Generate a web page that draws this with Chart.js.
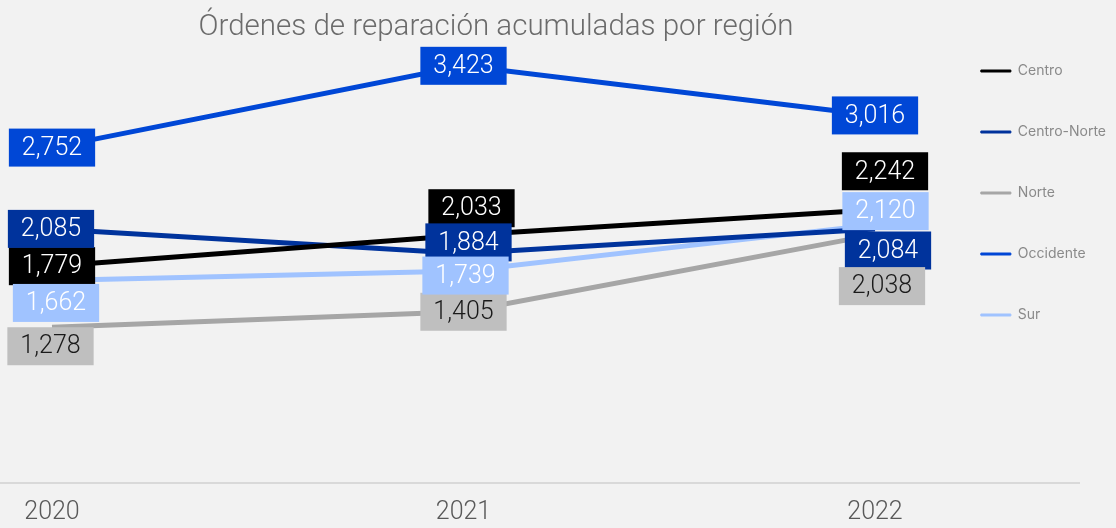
<!DOCTYPE html>
<html>
<head>
<meta charset="utf-8">
<script src="https://cdn.jsdelivr.net/npm/chart.js@4"></script>
<style>
  html, body { margin: 0; padding: 0; background: #f2f2f2; }
  #wrap { width: 1116px; height: 528px; }
</style>
</head>
<body>
<div id="wrap"><canvas id="chart"></canvas></div>
<script>
// data
const years = ["2020", "2021", "2022"];
const regions = ["Centro", "Centro-Norte", "Norte", "Occidente", "Sur"];
const centro = [1779, 2033, 2242];
const centroNorte = [2085, 1884, 2084];
const norte = [1278, 1405, 2038];
const occidente = [2752, 3423, 3016];
const sur = [1662, 1739, 2120];

const lineColors = ["#000000", "#00339c", "#a6a6a6", "#0047d6", "#a0c3ff"];
const boxColors = ["#000000", "#00339c", "#bfbfbf", "#0047d6", "#a0c3ff"];
const textColors = ["#ffffff", "#ffffff", "#1a1a1a", "#ffffff", "#ffffff"];

// how far each value label is nudged from its point (dx, dy)
const labelShift = [
  [[0, 0], [8, -27], [10, -38.5]],
  [[-1, 0], [5, -11], [13, 21.5]],
  [[-1.5, 19], [0, 0], [7, 51.5]],
  [[0, 0], [0, 0], [0, 0]],
  [[4, 22.5], [2, 4.5], [10.5, -13.5]],
];

const seriesValues = [centro, centroNorte, norte, occidente, sur];

const baseLine = {
  id: "baseLine",
  afterLayout(chart) {
    // title sits centred over the plot + gap, not the whole canvas
    if (chart.titleBlock) {
      chart.titleBlock.left = 0;
      chart.titleBlock.right = 992;
      chart.titleBlock.width = 992;
    }
  },
  beforeDatasetsDraw(chart) {
    const ctx = chart.ctx;
    const y = chart.chartArea.bottom;
    ctx.save();
    ctx.strokeStyle = "#d9d9d9";
    ctx.lineWidth = 2;
    ctx.beginPath();
    ctx.moveTo(0, y);
    ctx.lineTo(1080, y);
    ctx.stroke();
    ctx.restore();
  },
};

const valueLabels = {
  id: "valueLabels",
  afterDatasetsDraw(chart) {
    const ctx = chart.ctx;
    ctx.save();
    ctx.font = "300 25px Roboto";
    ctx.textAlign = "center";
    ctx.textBaseline = "middle";
    chart.data.datasets.forEach((ds, i) => {
      const meta = chart.getDatasetMeta(i);
      meta.data.forEach((pt, j) => {
        const txt = ds.data[j].toLocaleString("en-US");
        const x = pt.x + labelShift[i][j][0];
        const y = pt.y + labelShift[i][j][1];
        const w = ctx.measureText(txt).width + 26;
        const h = 38;
        ctx.fillStyle = boxColors[i];
        ctx.fillRect(x - w / 2, y - h / 2, w, h);
        ctx.fillStyle = textColors[i];
        ctx.fillText(txt, x, y + 1);
      });
    });
    ctx.restore();
  },
};

new Chart(document.getElementById("chart"), {
  type: "line",
  data: {
    labels: years,
    datasets: regions.map((name, i) => ({
      label: name,
      data: seriesValues[i],
      borderColor: lineColors[i],
      backgroundColor: lineColors[i],
      borderWidth: 5,
      pointRadius: 0,
      tension: 0,
    })),
  },
  options: {
    responsive: true,
    maintainAspectRatio: false,
    animation: false,
    layout: { padding: 0 },
    plugins: {
      title: {
        display: true,
        text: "Órdenes de reparación acumuladas por región",
        color: "#6b6b6b",
        font: { family: "Roboto", size: 29.5, weight: "300", lineHeight: 1.2 },
        padding: { top: 9.7, bottom: -29.5 },
      },
      legend: {
        position: "right",
        align: "start",
        title: {
          display: true,
          text: " ",
          font: { size: 12, lineHeight: 1 },
          padding: { top: 5, bottom: 0 },
        },
        labels: {
          color: "#8a8a8a",
          font: { family: "Inter", size: 14 },
          boxWidth: 30,
          boxHeight: 2,
          padding: 47,
          generateLabels(chart) {
            return Chart.defaults.plugins.legend.labels.generateLabels(chart).map((it, i) => ({
              ...it,
              fillStyle: lineColors[i],
              strokeStyle: lineColors[i],
              lineWidth: 1,
            }));
          },
        },
      },
      tooltip: { enabled: false },
    },
    scales: {
      x: {
        grid: { display: false, drawTicks: false },
        border: { display: false },
        ticks: {
          color: "#595959",
          font: { family: "Roboto", size: 25, weight: "300", lineHeight: 1.2 },
          padding: 15,
        },
        afterFit(s) { s.height = 45; },
      },
      y: {
        min: 0,
        max: 3835,
        grid: { display: false, drawTicks: false },
        border: { display: false },
        ticks: { display: false },
        afterFit(s) { s.width = 52; },
      },
      yR: {
        position: "right",
        grid: { display: false, drawTicks: false },
        border: { display: false },
        ticks: { display: false },
        afterFit(s) {
          const lw = s.chart.legend ? s.chart.legend.width : 182;
          s.width = Math.max(0, 1116 - lw - 875);
        },
      },
    },
  },
  plugins: [baseLine, valueLabels],
});
</script>
</body>
</html>
